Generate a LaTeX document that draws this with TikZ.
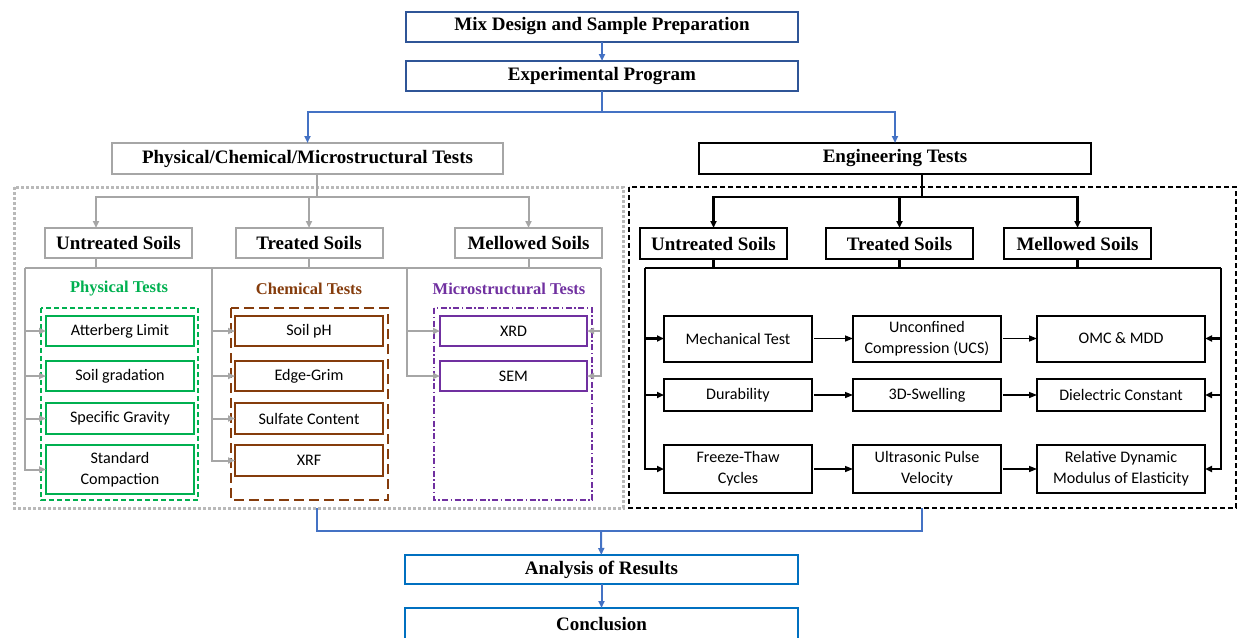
\documentclass[tikz,border=0pt]{standalone}
\usepackage{fontspec}
\setmainfont{Liberation Serif}
\newfontfamily\bodyfont{Carlito}
\usetikzlibrary{arrows.meta,positioning}

\definecolor{topblue}{RGB}{47,85,151}
\definecolor{botblue}{RGB}{0,112,192}
\definecolor{arrowblue}{RGB}{68,114,196}
\definecolor{linegray}{RGB}{166,166,166}
\definecolor{framegray}{RGB}{185,185,185}
\definecolor{physgreen}{RGB}{0,176,80}
\definecolor{chembrown}{RGB}{133,60,12}
\definecolor{micropurple}{RGB}{112,48,160}

\begin{document}
\begin{tikzpicture}[
			x=1pt, y=-1pt,
			every node/.style={inner sep=0pt, outer sep=0pt},
			head/.style={font=\fontsize{19}{22}\selectfont\bfseries},
			body/.style={font=\bodyfont\fontsize{16.1}{21}\selectfont},
			mainbox/.style={rectangle, draw=topblue, line width=2pt, fill=white, minimum width=392pt, minimum height=30pt, head},
			resultbox/.style={mainbox, draw=botblue, minimum width=393pt, minimum height=29pt},
			graybox/.style={rectangle, draw=linegray, line width=2pt, fill=white, minimum width=147pt, minimum height=30pt, head},
			blackbox/.style={graybox, draw=black, minimum height=31pt},
			grouplabel/.style={font=\fontsize{16.5}{20}\selectfont\bfseries},
			testbox/.style={rectangle, draw=#1, line width=2.5pt, fill=white, minimum width=148pt, minimum height=30pt, body, align=center},
			engbox/.style={rectangle, draw=black, line width=2pt, fill=white, minimum width=148pt, body, align=center},
			blueline/.style={draw=arrowblue, line width=2pt},
			bluearrow/.style={blueline, -{Triangle[length=7pt,width=6pt]}},
			grayline/.style={draw=linegray, line width=2pt},
			grayarrow/.style={grayline, -{Triangle[length=7pt,width=6pt]}},
			blackline/.style={draw=black, line width=2.5pt},
			blackarrow/.style={blackline, -{Triangle[length=7pt,width=6pt]}},
			thinarrow/.style={draw=black, line width=1.4pt, shorten <=2pt, -{Triangle[length=8pt,width=6pt]}}
		]
		\useasboundingbox (0,0) rectangle (1238,637);

		% Frames
		\draw[framegray, line width=3pt, dash pattern=on 3pt off 2pt] (14,187) rectangle (623,508);
		\draw[black, line width=1.5pt, dash pattern=on 5pt off 3pt] (629,187) rectangle (1236,508);
		\draw[physgreen, line width=1.3pt, dash pattern=on 5pt off 3pt] (41,308) rectangle (198,500);
		\draw[chembrown, line width=1.5pt, dash pattern=on 10pt off 5pt] (231,308) rectangle (388,500);
		\draw[micropurple, line width=1.3pt, dash pattern=on 6pt off 2.5pt on 1.5pt off 2.5pt] (434,308) rectangle (592,500);

		% Nodes
		\node (mix) [mainbox] at (602,26.5) {Mix Design and Sample Preparation};
		\node (exp) [mainbox] at (602,76) {Experimental Program};
		\node (phys) [graybox, minimum width=391pt, minimum height=31pt] at (307.5,158.5) {Physical/Chemical/Microstructural Tests};
		\node (eng) [blackbox, minimum width=392pt] at (895,158.5) {Engineering Tests};

		% Soils (left)
		\node (untL) [graybox] at (118.5,243) {Untreated Soils};
		\node (treL) [graybox] at (309,243) {Treated Soils};
		\node (melL) [graybox] at (528.5,243) {Mellowed Soils};

		% Soils (right)
		\node (untR) [blackbox] at (713.5,243.5) {Untreated Soils};
		\node (treR) [blackbox] at (899.5,243.5) {Treated Soils};
		\node (melR) [blackbox] at (1077.5,243.5) {Mellowed Soils};

		% Group labels
		\node (physlabel) [grouplabel, text=physgreen] at (119,289) {Physical Tests};
		\node (chemlabel) [grouplabel, text=chembrown] at (309,289) {Chemical Tests};
		\node (microlabel) [grouplabel, text=micropurple] at (509,289) {Microstructural Tests};

		% Physical Tests
		\node (atter) [testbox=physgreen] at (120,331) {Atterberg Limit};
		\node (grad) [testbox=physgreen] at (120,376) {Soil gradation};
		\node (gravity) [testbox=physgreen, minimum height=31pt] at (120,418.5) {Specific Gravity};
		\node (compact) [testbox=physgreen, minimum height=49pt] at (120,469.5) {Standard\\Compaction};

		% Chemical Tests
		\node (ph) [testbox=chembrown] at (309,331) {Soil pH};
		\node (edge) [testbox=chembrown] at (309,376) {Edge-Grim};
		\node (sulfate) [testbox=chembrown, minimum height=31pt] at (309,418.5) {Sulfate Content};
		\node (xrf) [testbox=chembrown, minimum height=31pt] at (309,460.5) {XRF};

		% Microstructural Tests
		\node (xrd) [testbox=micropurple, minimum width=147pt] at (513.5,331) {XRD};
		\node (sem) [testbox=micropurple, minimum width=147pt] at (513.5,376) {SEM};

		% Engineering Tests
		\node (mech) [engbox, minimum height=46pt] at (738,338.5) {Mechanical Test};
		\node (ucs) [engbox, minimum height=46pt] at (927,338.5) {Unconfined\\Compression (UCS)};
		\node (omc) [engbox, minimum width=168pt, minimum height=46pt] at (1121,338.5) {OMC \& MDD};
		\node (dur) [engbox, minimum height=32pt] at (738,395) {Durability};
		\node (swell) [engbox, minimum height=32pt] at (927,395) {3D-Swelling};
		\node (diel) [engbox, minimum width=168pt, minimum height=32pt] at (1121,395) {Dielectric Constant};
		\node (thaw) [engbox, minimum height=48pt] at (738,469) {Freeze-Thaw\\Cycles};
		\node (upv) [engbox, minimum height=48pt] at (927,469) {Ultrasonic Pulse\\Velocity};
		\node (rdm) [engbox, minimum width=168pt, minimum height=48pt] at (1121,469) {Relative Dynamic\\Modulus of Elasticity};

		% Results
		\node (analysis) [resultbox] at (601.5,569.5) {Analysis of Results};
		\node (concl) [resultbox, minimum height=32pt] at (601.5,624) {Conclusion};

		% Junctions
		\coordinate (split) at (602,112);
		\coordinate (lsplit) at (317,197);
		\coordinate (rsplit) at (922,197);
		\coordinate (lbus) at (25,268);
		\coordinate (chembus) at (212,268);
		\coordinate (microbus) at (407,268);
		\coordinate (lbusend) at (601,268);
		\coordinate (rbus) at (645,268);
		\coordinate (rbusend) at (1221,268);
		\coordinate (lout) at (317,508);
		\coordinate (rout) at (922,508);
		\coordinate (merge) at (601,531);

		% Connections (top)
		\draw [bluearrow] (mix) -- (exp);
		\draw [blueline] (exp) -- (split);
		\draw [bluearrow] (split) -| (phys.north);
		\draw [bluearrow] (split) -| (eng.north);

		% Connections (left)
		\draw [grayline] ([xshift=9.5pt]phys.south) -- (lsplit);
		\draw [grayarrow] (lsplit) -| ([xshift=-22.5pt]untL.north);
		\draw [grayarrow] (lsplit) -| (treL.north);
		\draw [grayarrow] (lsplit) -| (melL.north);
		\draw [grayline] (lbus) -- (lbusend);
		\draw [grayline] ([xshift=-22.5pt]untL.south) -- ([xshift=-22.5pt]untL.south |- lbus);
		\draw [grayline] (treL.south) -- (treL.south |- lbus);
		\draw [grayline] (melL.south) -- (melL.south |- lbus);
		\draw [grayarrow] (lbus) |- (atter.west);
		\draw [grayarrow] (lbus) |- (grad.west);
		\draw [grayarrow] (lbus) |- (gravity.west);
		\draw [grayarrow] (lbus) |- (compact.west);
		\draw [grayarrow] (chembus) |- (ph.west);
		\draw [grayarrow] (chembus) |- (edge.west);
		\draw [grayarrow] (chembus) |- (sulfate.west);
		\draw [grayarrow] (chembus) |- (xrf.west);
		\draw [grayarrow] (microbus) |- (xrd.west);
		\draw [grayarrow] (microbus) |- (sem.west);
		\draw [grayarrow] (lbusend) |- (xrd.east);
		\draw [grayarrow] (lbusend) |- (sem.east);

		% Connections (right)
		\draw [blackline] ([xshift=27pt]eng.south) -- (rsplit);
		\draw [blackarrow] (rsplit) -| (untR.north);
		\draw [blackarrow] (rsplit) -| (treR.north);
		\draw [blackarrow] (rsplit) -| (melR.north);
		\draw [blackline] (rbus) -- (rbusend);
		\draw [blackline] (untR.south) -- (untR.south |- rbus);
		\draw [blackline] (treR.south) -- (treR.south |- rbus);
		\draw [blackline] (melR.south) -- (melR.south |- rbus);
		\draw [blackarrow] (rbus) |- (mech.west);
		\draw [blackarrow] (rbus) |- (dur.west);
		\draw [blackarrow] (rbus) |- (thaw.west);
		\draw [blackarrow] (rbusend) |- (omc.east);
		\draw [blackarrow] (rbusend) |- (diel.east);
		\draw [blackarrow] (rbusend) |- (rdm.east);
		\draw [thinarrow] (mech) -- (ucs);
		\draw [thinarrow] (ucs) -- (omc);
		\draw [thinarrow] (dur) -- (swell);
		\draw [thinarrow] (swell) -- (diel);
		\draw [thinarrow] (thaw) -- (upv);
		\draw [thinarrow] (upv) -- (rdm);

		% Connections (bottom)
		\draw [blueline] (lout) |- (merge) -| (rout);
		\draw [bluearrow] (merge) -- (analysis);
		\draw [bluearrow] (analysis) -- (concl);

	\end{tikzpicture}
\end{document}
